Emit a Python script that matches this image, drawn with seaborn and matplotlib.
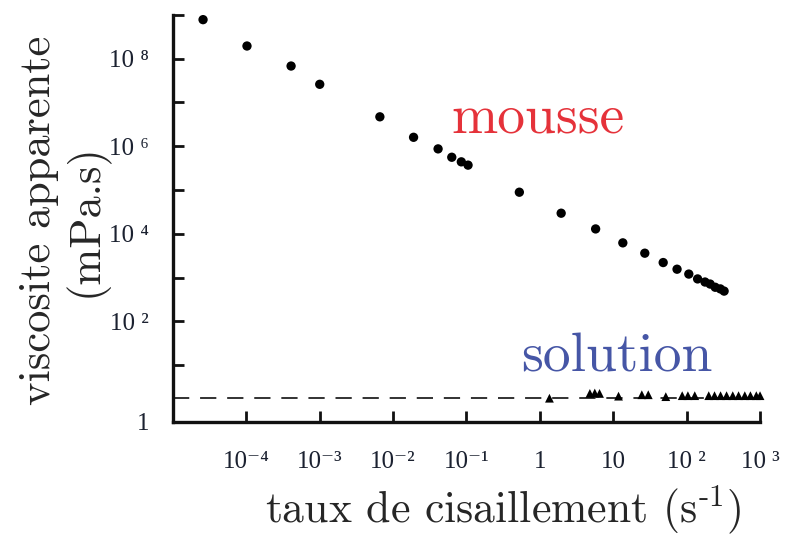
import matplotlib
matplotlib.use("Agg")
import matplotlib.pyplot as plt
import seaborn as sns
import pandas as pd

# ---- data ----
mousse_rate = [2.57e-5, 1.02e-4, 4.07e-4, 1.0e-3, 6.6e-3, 0.019, 0.041, 0.063, 0.085, 0.105,
               0.525, 1.95, 5.75, 13.5, 26.9, 47.9, 74, 107, 141, 178, 209, 245, 288, 324]
mousse_visc = [7.8e8, 1.95e8, 6.8e7, 2.6e7, 4.7e6, 1.6e6, 8.7e5, 5.6e5, 4.4e5, 3.7e5,
               8.9e4, 2.95e4, 1.29e4, 6.2e3, 3.6e3, 2.2e3, 1.55e3, 1.2e3, 930, 790, 710, 600, 550, 490]
solution_rate = [1.35, 4.8, 5.6, 6.5, 11.8, 24.5, 30, 52, 87, 104, 129,
                 200, 240, 290, 350, 425, 510, 620, 740, 890, 1000]
solution_visc = [1.75, 2.25, 2.3, 2.25, 1.95, 2.1, 2.1, 1.9, 2.0, 2.0, 2.0,
                 2.0, 2.0, 2.0, 2.0, 2.0, 2.0, 2.0, 2.0, 2.0, 2.0]
solvent_level = 1.8

x_ticks = [1e-4, 1e-3, 1e-2, 1e-1, 1, 10, 1e2, 1e3]
x_ticklabels = ["10\u207b\u2074", "10\u207b\u00b3", "10\u207b\u00b2", "10\u207b\u00b9", "1", "10",
                "10 \u00b2", "10 \u00b3"]
y_major = [1e1, 1e2, 1e3, 1e4, 1e5, 1e6, 1e7, 1e8, 1e9]
y_labelled = {1e2: "10 \u00b2", 1e4: "10 \u2074", 1e6: "10 \u2076", 1e8: "10 \u2078"}
y_bottom_label = "1"
y_min, y_max = 10 ** -0.3, 1e9
x_min, x_max = 1e-5, 1e3

sns.set_style("ticks")
plt.rcParams["mathtext.fontset"] = "cm"
plt.rcParams["axes.unicode_minus"] = False

df_m = pd.DataFrame({"rate": mousse_rate, "visc": mousse_visc})
df_s = pd.DataFrame({"rate": solution_rate, "visc": solution_visc})

fig = plt.figure(figsize=(7.88, 5.37), dpi=100)
ax = fig.add_axes([0.2195, 0.2142, 0.745, 0.758])

ax.set_xscale("log")
ax.set_yscale("log")

ax.axhline(solvent_level, color="#222222", lw=1.3, ls=(0, (9, 6)), zorder=1)

sns.scatterplot(data=df_m, x="rate", y="visc", ax=ax, color="black", s=45,
                edgecolor="none", marker="o", zorder=3, clip_on=False)
sns.scatterplot(data=df_s, x="rate", y="visc", ax=ax, color="black", s=40,
                edgecolor="none", marker="^", zorder=3, clip_on=False)

ax.set_xlim(x_min, x_max)
ax.set_ylim(y_min, y_max)

ax.set_xticks(x_ticks)
ax.set_xticklabels(x_ticklabels)
ax.xaxis.set_minor_locator(matplotlib.ticker.NullLocator())
yt = [y_min] + y_major
ax.set_yticks(yt)
ax.set_yticklabels([y_bottom_label] + [y_labelled.get(v, "") for v in y_major])
ax.yaxis.set_minor_locator(matplotlib.ticker.NullLocator())

ax.tick_params(axis="both", direction="in", length=8, width=2, color="#111111",
               labelsize=18, labelcolor="#1b2130")
ax.tick_params(axis="x", pad=21)
ax.tick_params(axis="y", pad=17)
for lab in ax.get_xticklabels() + ax.get_yticklabels():
    lab.set_family(["Liberation Serif", "DejaVu Serif"])

for side in ["top", "right"]:
    ax.spines[side].set_visible(False)
for side in ["left", "bottom"]:
    ax.spines[side].set_linewidth(2.4)
    ax.spines[side].set_color("#111111")
ax.set_xlabel("")
ax.set_ylabel("")

ax.text(0.062, 4.2e6, "mousse", color="#e5323a", fontsize=40, family="cmr10",
        ha="left", va="center")
ax.text(0.56, 14.5, "solution", color="#4656a6", fontsize=40, family="cmr10",
        ha="left", va="center")

fig.text(503 / 788, 1 - 522 / 537, r"taux de cisaillement (s$^{\text{-1}}$)",
         family="cmr10", fontsize=31.5, ha="center", va="baseline")
fig.text(64 / 788, 1 - 220 / 537, "viscosite apparente\n(mPa.s)", family="cmr10",
         fontsize=32, rotation=90, ha="center", va="center", multialignment="center",
         linespacing=1.12)

fig.savefig("out.png", dpi=100, facecolor="white")
